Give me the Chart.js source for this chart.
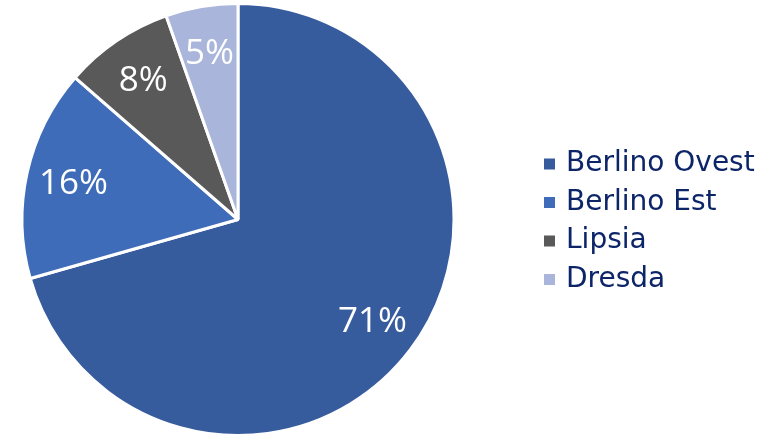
<!DOCTYPE html>
<html>
<head>
<meta charset="utf-8">
<script src="https://cdn.jsdelivr.net/npm/chart.js@4/dist/chart.umd.min.js"></script>
<style>
    html, body { margin: 0; padding: 0; background: #fff; }
    #wrap { width: 780px; height: 437px; }
</style>
</head>
<body>
<div id="wrap"><canvas id="pie"></canvas></div>
<script>
// dati
const cities = ['Berlino Ovest', 'Berlino Est', 'Lipsia', 'Dresda'];
const shares = [70.6, 15.8, 8.2, 5.4];
const sliceColors = ['#375C9E', '#3F6CB9', '#595959', '#A9B5DA'];

// etichette percentuali dentro le fette
const sliceLabels = {
    id: 'sliceLabels',
    afterDatasetsDraw(chart) {
        const ctx = chart.ctx;
        const meta = chart.getDatasetMeta(0);
        const total = shares.reduce((a, b) => a + b, 0);
        ctx.save();
        ctx.fillStyle = '#fff';
        ctx.font = '35px "Open Sans"';
        ctx.textAlign = 'center';
        ctx.textBaseline = 'middle';
        meta.data.forEach((arc, i) => {
            const p = arc.getProps(['x', 'y', 'startAngle', 'endAngle', 'outerRadius']);
            const mid = (p.startAngle + p.endAngle) / 2;
            const r = p.outerRadius * 0.78;
            const txt = Math.round(shares[i] / total * 100) + '%';
            ctx.fillText(txt, p.x + Math.cos(mid) * r, p.y + Math.sin(mid) * r + 1);
        });
        ctx.restore();
    }
};

// legenda a destra
const sideLegend = {
    id: 'sideLegend',
    afterDraw(chart) {
        const ctx = chart.ctx;
        ctx.save();
        ctx.font = '28px "DejaVu Sans"';
        ctx.textBaseline = 'middle';
        cities.forEach((name, i) => {
            const y = 164 + i * 38.5;
            ctx.fillStyle = sliceColors[i];
            ctx.fillRect(544, y - 5.5, 11, 11);
            ctx.fillStyle = '#0C2568';
            ctx.fillText(name, 566, y);
        });
        ctx.restore();
    }
};

new Chart(document.getElementById('pie'), {
    type: 'pie',
    data: {
        labels: cities,
        datasets: [{
            data: shares,
            backgroundColor: sliceColors,
            borderColor: '#fff',
            borderWidth: 3
        }]
    },
    options: {
        responsive: true,
        maintainAspectRatio: false,
        animation: false,
        layout: { padding: { left: 20, top: 2, right: 324, bottom: 0 } },
        plugins: {
            legend: { display: false },
            tooltip: { enabled: false }
        }
    },
    plugins: [sliceLabels, sideLegend]
});
</script>
</body>
</html>
